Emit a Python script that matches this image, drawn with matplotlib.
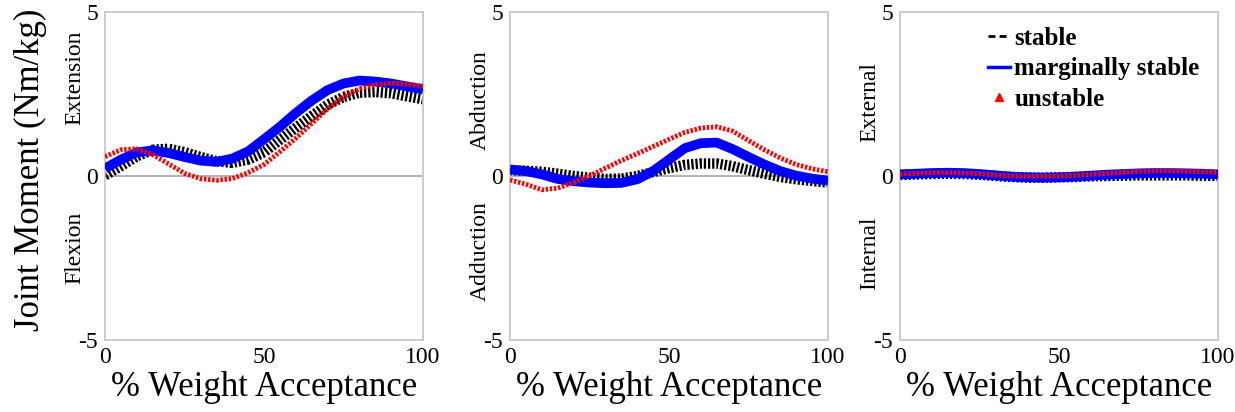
import numpy as np
import matplotlib.pyplot as plt
from matplotlib.lines import Line2D

plt.rcParams['font.family'] = ['Liberation Serif', 'DejaVu Serif']
plt.rcParams['axes.unicode_minus'] = False

# % weight acceptance, sampled every 5 %
pct = np.arange(0, 101, 5)

# Sagittal plane (extension +)
sag_stable = [0.02, 0.30, 0.60, 0.80, 0.83, 0.73, 0.58, 0.45, 0.40, 0.50, 0.72,
              1.10, 1.47, 1.83, 2.17, 2.41, 2.54, 2.56, 2.52, 2.43, 2.34]
sag_marginal = [0.23, 0.50, 0.72, 0.78, 0.70, 0.58, 0.47, 0.43, 0.53, 0.75, 1.12,
                1.50, 1.92, 2.30, 2.62, 2.82, 2.91, 2.88, 2.82, 2.73, 2.64]
sag_unstable = [0.59, 0.80, 0.83, 0.65, 0.37, 0.08, -0.08, -0.13, -0.08, 0.10, 0.35,
                0.74, 1.15, 1.60, 2.05, 2.42, 2.66, 2.78, 2.83, 2.80, 2.74]

# Frontal plane (abduction +)
fro_stable = [0.18, 0.16, 0.13, 0.07, 0.00, -0.05, -0.09, -0.08, 0.00, 0.12, 0.24,
              0.34, 0.38, 0.38, 0.30, 0.18, 0.07, -0.03, -0.10, -0.15, -0.20]
fro_marginal = [0.20, 0.15, 0.05, -0.09, -0.16, -0.20, -0.22, -0.21, -0.10, 0.15, 0.50,
                0.85, 1.00, 1.02, 0.82, 0.58, 0.35, 0.15, 0.01, -0.08, -0.14]
fro_unstable = [-0.12, -0.25, -0.42, -0.37, -0.20, 0.00, 0.24, 0.47, 0.68, 0.90, 1.12,
                1.33, 1.46, 1.50, 1.37, 1.08, 0.80, 0.55, 0.35, 0.22, 0.13]

# Transverse plane (external +)
tra_stable = [0.03, 0.05, 0.06, 0.07, 0.06, 0.04, 0.00, -0.03, -0.05, -0.05, -0.04,
              -0.03, -0.01, 0.00, 0.01, 0.02, 0.02, 0.02, 0.02, 0.01, 0.00]
tra_marginal = [0.05, 0.07, 0.09, 0.10, 0.09, 0.06, 0.02, -0.02, -0.04, -0.05, -0.04,
                -0.02, 0.01, 0.04, 0.06, 0.08, 0.09, 0.09, 0.08, 0.07, 0.05]
tra_unstable = [0.06, 0.08, 0.10, 0.10, 0.09, 0.07, 0.03, 0.00, -0.01, -0.01, 0.00,
                0.02, 0.05, 0.08, 0.11, 0.14, 0.16, 0.16, 0.15, 0.13, 0.11]

panels = [
    (sag_stable, sag_marginal, sag_unstable, "Extension", "Flexion", 3.0, -2.2),
    (fro_stable, fro_marginal, fro_unstable, "Abduction", "Adduction", 2.3, -2.3),
    (tra_stable, tra_marginal, tra_unstable, "External", "Internal", 2.25, -2.35),
]

fig = plt.figure(figsize=(12.35, 4.12), dpi=100)
lefts = [105, 510, 900]
W, H = 1235, 412
axes = []
for left in lefts:
    axes.append(fig.add_axes([left / W, 1 - 340 / H, 318 / W, 328 / H]))

grey = "#c4c4c4"
for ax, (st, ms, un, up_txt, dn_txt, up_y, dn_y) in zip(axes, panels):
    ax.axhline(0, color="#a6a6a6", lw=1.2, zorder=1)
    ax.plot(pct, st, color="black", lw=7.5, linestyle=(0, (0.22, 0.18)), zorder=2)
    ax.plot(pct, ms, color="#0000ff", lw=7, zorder=3, solid_capstyle="butt")
    ax.plot(pct, un, color="#ff0000", lw=3.5, linestyle=(0, (0.5, 0.35)), zorder=4)

    ax.set_xlim(0, 100)
    ax.set_ylim(-5, 5)
    ax.set_xticks([0, 50, 100])
    ax.set_yticks([-5, 0, 5])
    ax.tick_params(length=0, labelsize=17, pad=5)
    for s in ax.spines.values():
        s.set_color(grey)
        s.set_linewidth(1.2)
    ax.set_xlabel("% Weight Acceptance", fontsize=25, labelpad=2)

    # direction labels beside the y axis
    ax.text(-0.095, up_y, up_txt, rotation=90, ha="center", va="center",
            fontsize=17, transform=ax.get_yaxis_transform())
    ax.text(-0.095, dn_y, dn_txt, rotation=90, ha="center", va="center",
            fontsize=17, transform=ax.get_yaxis_transform())

fig.text(30 / W, 1 - 170 / H, "Joint Moment (Nm/kg)", rotation=90,
         ha="center", va="center", fontsize=25)

handles = [
    Line2D([], [], color="black", lw=2, linestyle=(0, (2.5, 1.5))),
    Line2D([], [], color="#0000ff", lw=2.5),
    Line2D([], [], color="#ff0000", lw=0, marker="^", markersize=6),
]
axes[2].legend(handles, ["stable", "marginally stable", "unstable"],
               loc="upper left", bbox_to_anchor=(0.245, 0.985), frameon=False,
               prop={"weight": "bold", "size": 18}, handlelength=0.9,
               handletextpad=0.15, labelspacing=0.3, borderaxespad=0)

fig.savefig("out.png", dpi=100)
